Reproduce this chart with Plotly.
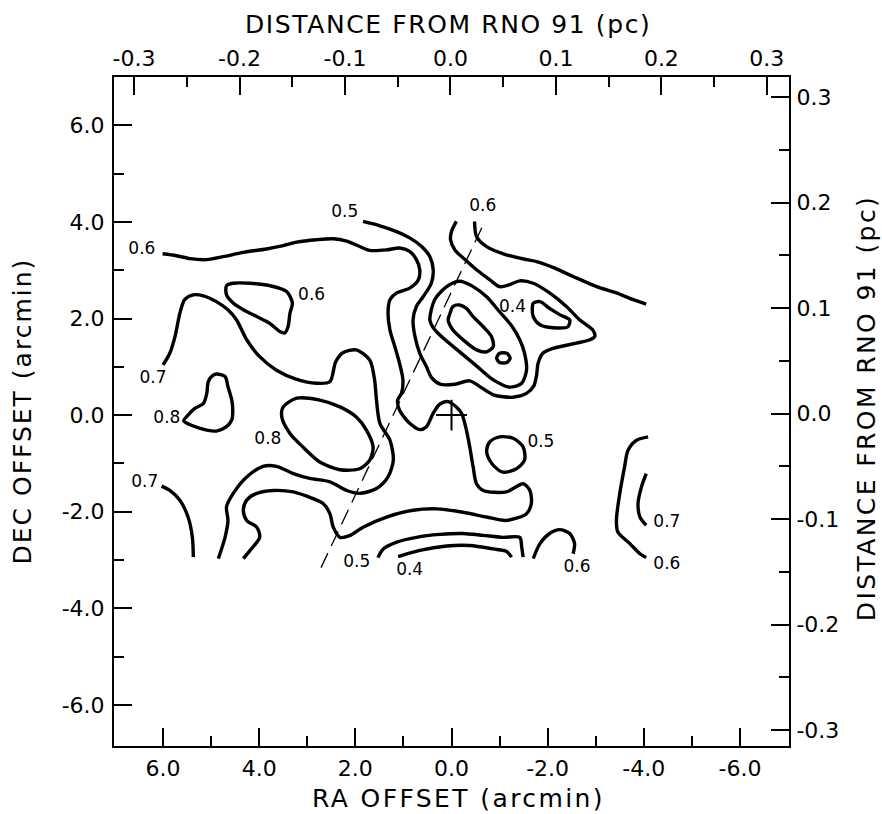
import plotly.graph_objects as go

FONT = "DejaVu Sans"

# ---- contour paths (RA offset, DEC offset in arcmin) ----
c06_west_ra = [6.01, 5.72, 5.44, 5.09, 4.75, 4.33, 3.85, 3.50, 3.22, 2.81, 2.46, 2.18, 1.91, 1.70, 1.35,
               1.08, 0.87, 0.73, 0.66, 0.69, 0.87, 1.14, 1.28, 1.32, 1.28, 1.18, 1.08, 1.01, 1.04, 1.12,
               1.08, 0.87, 0.66, 0.52, 0.38, 0.24, 0.07, -0.10, -0.21, -0.31, -0.38, -0.45, -0.52, -0.66,
               -1.14, -1.49, -1.63, -1.66, -1.56, -1.14, -0.73, -0.24, 0.31, 0.80, 1.35, 1.84, 2.11, 2.32,
               2.46, 2.53, 2.67, 2.88, 3.29, 3.71, 4.05, 4.26, 4.33, 4.26, 4.05, 3.99, 4.19, 4.33]
c06_west_dec = [3.34, 3.30, 3.24, 3.22, 3.28, 3.37, 3.44, 3.51, 3.58, 3.63, 3.65, 3.60, 3.49, 3.41, 3.42,
                3.46, 3.39, 3.22, 3.01, 2.80, 2.63, 2.53, 2.39, 2.11, 1.76, 1.42, 1.07, 0.73, 0.45, 0.31,
                0.10, -0.17, -0.30, -0.24, 0.04, 0.23, 0.28, 0.17, 0.04, -0.31, -0.66, -1.07, -1.42, -1.56,
                -1.59, -1.42, -1.56, -1.83, -2.04, -2.18, -2.11, -2.01, -1.94, -1.97, -2.11, -2.32, -2.49,
                -2.53, -2.32, -2.04, -1.83, -1.73, -1.59, -1.56, -1.62, -1.76, -1.97, -2.18, -2.32, -2.53,
                -2.80, -2.97]

c07_west_ra = [6.00, 5.86, 5.75, 5.65, 5.55, 5.37, 5.16, 4.89, 4.65, 4.47, 4.26, 3.99, 3.64, 3.22, 2.81,
               2.53, 2.41, 2.26, 1.98, 1.70, 1.60, 1.56, 1.49, 1.28, 1.21, 1.32, 1.56, 1.91, 2.18, 2.53,
               2.95, 3.29, 3.64, 3.92, 4.26, 4.54, 4.68, 4.65, 4.71, 4.85]
c07_west_dec = [1.04, 1.28, 1.63, 2.11, 2.39, 2.49, 2.47, 2.35, 2.18, 1.97, 1.56, 1.21, 0.93, 0.74, 0.66,
                0.69, 1.10, 1.29, 1.35, 1.14, 0.73, 0.31, -0.17, -0.52, -0.93, -1.28, -1.52, -1.62, -1.56,
                -1.38, -1.31, -1.21, -1.06, -1.06, -1.28, -1.62, -1.90, -2.18, -2.53, -2.97]

c08_core_ra = [3.22, 2.74, 2.32, 1.98, 1.77, 1.63, 1.70, 1.91, 2.32, 2.74, 3.09, 3.36, 3.53, 3.50, 3.22]
c08_core_dec = [0.35, 0.31, 0.17, -0.04, -0.31, -0.66, -0.93, -1.11, -1.13, -0.97, -0.66, -0.38, -0.04, 0.17, 0.35]

c08_west_ra = [4.89, 4.71, 4.65, 4.57, 4.55, 4.57, 4.68, 4.89, 5.09, 5.41, 5.57, 5.48, 5.34, 5.16, 5.09,
               5.06, 4.98, 4.89]
c08_west_dec = [0.85, 0.80, 0.59, 0.31, 0.10, -0.10, -0.24, -0.33, -0.31, -0.21, -0.12, 0.00, 0.14, 0.24,
                0.45, 0.69, 0.81, 0.85]

c06_knot_ra = [4.68, 4.54, 4.19, 3.78, 3.43, 3.31, 3.36, 3.40, 3.47, 3.57, 3.78, 4.05, 4.33, 4.54, 4.68, 4.68]
c06_knot_dec = [2.68, 2.73, 2.73, 2.68, 2.56, 2.32, 2.11, 1.83, 1.70, 1.73, 1.90, 2.04, 2.18, 2.32, 2.49, 2.68]

c07_sw_ra = [6.03, 5.86, 5.65, 5.48, 5.39, 5.37]
c07_sw_dec = [-1.47, -1.56, -1.76, -2.11, -2.53, -2.94]

c05_south_ra = [1.53, 1.42, 1.14, 0.73, 0.24, -0.24, -0.66, -1.07, -1.42, -1.46, -1.49]
c05_south_dec = [-2.95, -2.77, -2.63, -2.53, -2.47, -2.45, -2.49, -2.53, -2.53, -2.73, -2.94]

c04_south_ra = [1.11, 0.66, 0.10, -0.38, -0.87, -1.14, -1.25]
c04_south_dec = [-2.93, -2.80, -2.71, -2.70, -2.77, -2.82, -2.94]

c06_south_ra = [-1.70, -1.84, -2.04, -2.25, -2.46, -2.56, -2.53]
c06_south_dec = [-2.97, -2.66, -2.45, -2.37, -2.45, -2.66, -2.87]

c06_east_ra = [-4.09, -3.85, -3.67, -3.60, -3.50, -3.43, -3.46, -3.71, -3.92, -4.05]
c06_east_dec = [-0.45, -0.52, -0.73, -1.07, -1.62, -2.18, -2.42, -2.66, -2.87, -2.95]

c07_east_ra = [-4.05, -3.95, -3.88, -3.92, -4.05]
c07_east_dec = [-1.21, -1.49, -1.83, -2.11, -2.28]

c05_knot_ra = [-0.73, -0.80, -1.00, -1.28, -1.49, -1.52, -1.35, -1.07, -0.87, -0.76, -0.73]
c05_knot_dec = [-0.73, -0.55, -0.45, -0.48, -0.66, -0.93, -1.11, -1.18, -1.04, -0.87, -0.73]

c05_north_ra = [1.84, 1.49, 1.14, 0.87, 0.62, 0.45, 0.38, 0.42, 0.59, 0.73, 0.80, 0.76, 0.66, 0.52, 0.41,
                0.24, -0.07, -0.38, -0.59, -0.87, -1.28, -1.56, -1.71, -1.77, -1.80, -1.90, -2.11, -2.60,
                -2.88, -2.98, -2.94, -2.67, -2.39, -2.04, -1.70, -1.42, -1.21, -1.00, -0.80, -0.52, -0.28,
                -0.07, 0.02, 0.00, -0.10]
c05_north_dec = [4.01, 3.92, 3.80, 3.67, 3.49, 3.28, 3.01, 2.73, 2.45, 2.25, 1.97, 1.63, 1.28, 1.00, 0.77,
                 0.64, 0.64, 0.71, 0.59, 0.42, 0.37, 0.45, 0.60, 0.83, 1.07, 1.28, 1.38, 1.49, 1.56, 1.63,
                 1.76, 1.97, 2.25, 2.53, 2.73, 2.78, 2.70, 2.66, 2.80, 3.01, 3.22, 3.42, 3.63, 3.80, 4.01]

c06_ne_ra = [-0.48, -0.52, -0.73, -1.14, -1.56, -1.77, -2.11, -2.53, -3.02, -3.43, -3.78, -4.05]
c06_ne_dec = [4.01, 3.70, 3.49, 3.32, 3.22, 3.18, 3.06, 2.87, 2.66, 2.53, 2.39, 2.30]

c04_peak_ra = [0.45, 0.35, 0.10, -0.17, -0.45, -0.73, -1.00, -1.25, -1.42, -1.52, -1.56, -1.46, -1.21,
               -0.87, -0.52, -0.17, 0.18, 0.38, 0.45]
c04_peak_dec = [1.97, 2.39, 2.66, 2.77, 2.66, 2.45, 2.14, 1.85, 1.56, 1.28, 0.93, 0.66, 0.58, 0.73, 1.02,
                1.31, 1.60, 1.81, 1.97]

c03_peak_ra = [0.03, -0.03, -0.17, -0.31, -0.45, -0.66, -0.83, -0.87, -0.73, -0.52, -0.24, -0.03, 0.07, 0.03]
c03_peak_dec = [2.11, 2.25, 2.28, 2.21, 2.04, 1.83, 1.63, 1.42, 1.31, 1.35, 1.56, 1.76, 1.97, 2.11]

c02_peak_ra = [-0.94, -1.00, -1.15, -1.22, -1.15, -1.00, -0.94]
c02_peak_dec = [1.18, 1.28, 1.28, 1.18, 1.09, 1.09, 1.18]

c05_ne_knot_ra = [-1.70, -1.84, -2.04, -2.25, -2.46, -2.42, -2.11, -1.84, -1.70, -1.68, -1.70]
c05_ne_knot_dec = [2.32, 2.35, 2.21, 2.08, 1.97, 1.83, 1.81, 1.87, 2.04, 2.21, 2.32]

# ---- contour level labels ----
label_ra = [6.44, 2.22, -0.65, 2.91, -1.27, 6.21, 5.92, 3.82, -1.86, 6.38, -4.48, 1.97, 0.87, -2.61, -4.48]
label_dec = [3.42, 4.19, 4.32, 2.47, 2.22, 0.75, -0.08, -0.50, -0.58, -1.41, -2.22, -3.05, -3.22, -3.17, -3.09]
label_txt = ["0.6", "0.5", "0.6", "0.6", "0.4", "0.7", "0.8", "0.8", "0.5", "0.7", "0.7", "0.5", "0.4",
             "0.6", "0.6"]

# ---- outflow axis (dashed) and source position ----
axis_ra = [-0.63, 2.72]
axis_dec = [3.88, -3.17]
source_ra = [0.0]
source_dec = [0.0]

# ---- axis ticks ----
arcmin_ticks = [6, 4, 2, 0, -2, -4, -6]
arcmin_text = ["6.0", "4.0", "2.0", "0.0", "-2.0", "-4.0", "-6.0"]
arcmin_minor = [5, 3, 1, -1, -3, -5]
pc_ticks = [-0.3, -0.2, -0.1, 0.0, 0.1, 0.2, 0.3]
pc_text = ["-0.3", "-0.2", "-0.1", "0.0", "0.1", "0.2", "0.3"]
pc_minor = [-0.25, -0.15, -0.05, 0.05, 0.15, 0.25]

paths = [
    (c06_west_ra, c06_west_dec), (c07_west_ra, c07_west_dec), (c08_core_ra, c08_core_dec),
    (c08_west_ra, c08_west_dec), (c06_knot_ra, c06_knot_dec), (c07_sw_ra, c07_sw_dec),
    (c05_south_ra, c05_south_dec), (c04_south_ra, c04_south_dec), (c06_south_ra, c06_south_dec),
    (c06_east_ra, c06_east_dec), (c07_east_ra, c07_east_dec), (c05_knot_ra, c05_knot_dec),
    (c05_north_ra, c05_north_dec), (c06_ne_ra, c06_ne_dec), (c04_peak_ra, c04_peak_dec),
    (c03_peak_ra, c03_peak_dec), (c02_peak_ra, c02_peak_dec), (c05_ne_knot_ra, c05_ne_knot_dec),
]

fig = go.Figure()

for ra, dec in paths:
    fig.add_trace(go.Scatter(
        x=ra, y=dec, mode="lines",
        line=dict(color="black", width=3.4, shape="spline", smoothing=0.8),
        hoverinfo="skip", showlegend=False,
    ))

fig.add_trace(go.Scatter(
    x=axis_ra, y=axis_dec, mode="lines",
    line=dict(color="black", width=1.3, dash="16px,8px"),
    hoverinfo="skip", showlegend=False,
))

fig.add_trace(go.Scatter(
    x=source_ra, y=source_dec, mode="markers",
    marker=dict(symbol="cross-thin", size=22, color="black", line=dict(color="black", width=2)),
    hoverinfo="skip", showlegend=False,
))

fig.add_trace(go.Scatter(
    x=label_ra, y=label_dec, mode="text", text=label_txt,
    textfont=dict(family=FONT, size=17, color="black"),
    hoverinfo="skip", showlegend=False,
))

# invisible trace so the parsec axes are drawn
fig.add_trace(go.Scatter(
    x=[0], y=[0], xaxis="x2", yaxis="y2", mode="markers",
    marker=dict(opacity=0), hoverinfo="skip", showlegend=False,
))

tickfont = dict(family=FONT, size=22, color="black")
common = dict(
    ticks="inside", ticklen=18, tickwidth=2, tickcolor="black",
    showline=True, linewidth=2, linecolor="black",
    showgrid=False, zeroline=False, tickfont=tickfont,
)
minor = dict(ticks="inside", ticklen=10, tickwidth=2, tickcolor="black", showgrid=False)

fig.update_layout(
    width=882, height=814,
    margin=dict(l=114, r=93, t=77, b=68),
    paper_bgcolor="white", plot_bgcolor="white",
    showlegend=False,
    xaxis=dict(range=[7.02, -7.02], tickvals=arcmin_ticks, ticktext=arcmin_text,
               minor=dict(tickvals=arcmin_minor, **minor), ticklabelstandoff=2, **common),
    yaxis=dict(range=[-6.85, 7.0], tickvals=arcmin_ticks, ticktext=arcmin_text,
               minor=dict(tickvals=arcmin_minor, **minor), ticklabelstandoff=3, **common),
    xaxis2=dict(range=[-0.319, 0.321], overlaying="x", side="top", anchor="y",
                tickvals=pc_ticks, ticktext=pc_text,
                minor=dict(tickvals=pc_minor, **minor), ticklabelstandoff=0, **common),
    yaxis2=dict(range=[-0.315, 0.319], overlaying="y", side="right", anchor="x",
                tickvals=pc_ticks, ticktext=pc_text,
                minor=dict(tickvals=pc_minor, **minor), ticklabelstandoff=1, **common),
)


def spaced(s, px=2):
    return '<span style="letter-spacing:%spx">' % px + s + '</span>'


title_font = dict(family=FONT, size=25, color="black")
fig.add_annotation(text=spaced("RA OFFSET (arcmin)", 2.4), xref="paper", yref="paper", x=0.51, y=0,
                   yshift=-52, showarrow=False, font=title_font, yanchor="middle")
fig.add_annotation(text=spaced("DISTANCE FROM RNO 91 (pc)", 1.6), xref="paper", yref="paper", x=0.495, y=1,
                   yshift=53, showarrow=False, font=title_font, yanchor="middle")
fig.add_annotation(text=spaced("DEC OFFSET (arcmin)"), xref="paper", yref="paper", x=0, y=0.5,
                   xshift=-92, showarrow=False, font=title_font, textangle=-90, xanchor="center")
fig.add_annotation(text=spaced("DISTANCE FROM RNO 91 (pc)", 2.4), xref="paper", yref="paper", x=1, y=0.505,
                   xshift=77, showarrow=False, font=title_font, textangle=-90, xanchor="center")

fig.write_html("out.html")
